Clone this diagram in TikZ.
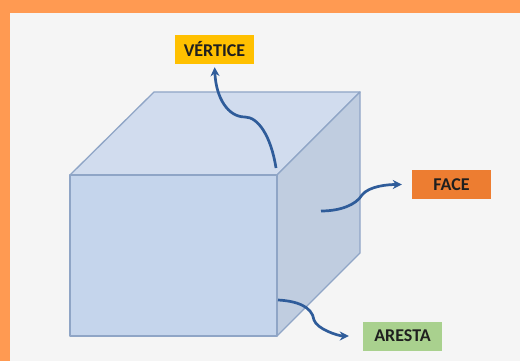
\documentclass[tikz,border=0pt]{standalone}
\usepackage{fontspec}
\setmainfont{Carlito}
\usetikzlibrary{arrows.meta}
\definecolor{bgc}{HTML}{F5F5F5}
\definecolor{framec}{HTML}{FF9A52}
\definecolor{frontc}{HTML}{C5D5EC}
\definecolor{topc}{HTML}{D1DCEE}
\definecolor{sidec}{HTML}{C0CDE0}
\definecolor{edgec}{HTML}{8FA5C6}
\definecolor{arrowc}{HTML}{2F5C9A}
\definecolor{yellowtag}{HTML}{FFC000}
\definecolor{orangetag}{HTML}{ED7D31}
\definecolor{greentag}{HTML}{A9D18E}
\tikzset{
  face/.style={fill=#1,draw=edgec,line width=1.3pt,line join=round},
  tag/.style={fill=#1,minimum width=79pt,minimum height=29pt,inner sep=0pt,font=\fontsize{18}{20}\selectfont\bfseries,text=black!88},
  pointer/.style={draw=arrowc,line width=2.7pt,-{Stealth[length=9pt,width=9pt]}}
}
\begin{document}
\begin{tikzpicture}[x=1pt,y=-1pt]
\useasboundingbox (0,0) rectangle (520,361);
\fill[framec] (0,0) rectangle (520,361);
\fill[bgc] (10,13) rectangle (520,361);
% cube
\draw[face=topc] (70,175) -- (154,92) -- (360,92) -- (277,175) -- cycle;
\draw[face=sidec] (277,175) -- (360,92) -- (360,253) -- (277,336) -- cycle;
\draw[face=frontc] (70,175) rectangle (277,336);
% labels
\node[tag=yellowtag] (vertice) at (214.5,49.5) {VÉRTICE};
\node[tag=orangetag] (facetag) at (451.5,184.5) {FACE};
\node[tag=greentag] (aresta) at (402.5,336) {ARESTA};
% connector starts
\coordinate (vstart) at (276,168);
\coordinate (fstart) at (321,211);
\coordinate (astart) at (278,300);
% connectors
\draw[pointer,shorten >=3pt] (vstart) .. controls (271,136) and (258,117) .. (245,117)
  .. controls (228,117) and (216,98) .. (vertice.south);
\draw[pointer,shorten >=10pt] (fstart) .. controls (340,211) and (356,205) .. (362,195)
  .. controls (369,186) and (388,184.5) .. (facetag.west);
\draw[pointer,shorten >=14pt] (astart) .. controls (296,301) and (312,306) .. (314,320)
  .. controls (317,329) and (338,336) .. (aresta.west);
\end{tikzpicture}
\end{document}
